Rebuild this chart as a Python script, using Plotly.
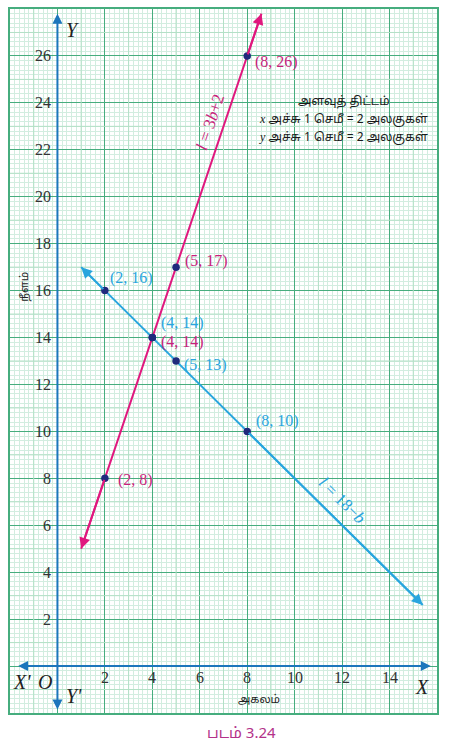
import plotly.graph_objects as go

# plotted points
b_pts_magenta = [2, 4, 5, 8]
l_pts_magenta = [8, 14, 17, 26]
b_pts_cyan = [2, 4, 5, 8]
l_pts_cyan = [16, 14, 13, 10]

# the two drawn lines, with their arrow ends
b_line_magenta = [1, 2, 4, 5, 8, 8.6]
l_line_magenta = [5, 8, 14, 17, 26, 27.8]
b_line_cyan = [1, 2, 4, 5, 8, 15.4]
l_line_cyan = [17, 16, 14, 13, 10, 2.6]

labels_magenta = ["(2, 8)", "(4, 14)", "(5, 17)", "(8, 26)"]
labels_cyan = ["(2, 16)", "(4, 14)", "(5, 13)", "(8, 10)"]

x_ticks = [2, 4, 6, 8, 10, 12, 14]
y_ticks = [2, 4, 6, 8, 10, 12, 14, 16, 18, 20, 22, 24, 26]

scale_lines = ["அளவுத் திட்டம்",
               "<span style='font-family:Liberation Serif'><i>x</i></span> அச்சு 1 செமீ = 2 அலகுகள்",
               "<span style='font-family:Liberation Serif'><i>y</i></span> அச்சு 1 செமீ = 2 அலகுகள்"]

MAGENTA = "#e0187e"
MAGENTA_TXT = "#c81f7c"
CYAN = "#29a5de"
AXIS_BLUE = "#1c76bc"
DOT = "#1f2a7c"
SERIF = "Liberation Serif, Times New Roman, serif"
TAMIL = "Noto Sans Tamil, Latha, Noto Sans, sans-serif"

# label offsets in px (right of / above the dot)
off_magenta = [(11, -2), (7, -4), (7, 6), (6, -6)]
off_cyan = [(3, 13), (7, 15), (6, -4), (7, 10)]

fig = go.Figure()

fig.add_trace(go.Scatter(x=b_line_magenta, y=l_line_magenta, mode="lines",
                         line=dict(color=MAGENTA, width=2), hoverinfo="skip"))
fig.add_trace(go.Scatter(x=b_line_cyan, y=l_line_cyan, mode="lines",
                         line=dict(color=CYAN, width=2), hoverinfo="skip"))
fig.add_trace(go.Scatter(x=b_pts_magenta + b_pts_cyan, y=l_pts_magenta + l_pts_cyan,
                         mode="markers", marker=dict(color=DOT, size=7.5)))

ann = []

# arrow heads at both ends of each line
for bx, ly, col in [(b_line_magenta, l_line_magenta, MAGENTA), (b_line_cyan, l_line_cyan, CYAN)]:
    for tip, tail in [(-1, -2), (0, 1)]:
        ann.append(dict(x=bx[tip], y=ly[tip], ax=bx[tail], ay=ly[tail], axref="x", ayref="y",
                        xref="x", yref="y", text="", showarrow=True, arrowhead=2,
                        arrowsize=1.1, arrowwidth=2, arrowcolor=col))

# coordinate axes
ann.append(dict(x=15.74, y=0, ax=-1.72, ay=0, axref="x", ayref="y", text="", showarrow=True,
                arrowhead=2, arrowside="end+start", arrowsize=1, arrowwidth=2, arrowcolor=AXIS_BLUE))
ann.append(dict(x=0, y=27.8, ax=0, ay=-1.91, axref="x", ayref="y", text="", showarrow=True,
                arrowhead=2, arrowside="end+start", arrowsize=1, arrowwidth=2, arrowcolor=AXIS_BLUE))

# point labels
for b, l, t, (dx, dy) in zip(b_pts_magenta, l_pts_magenta, labels_magenta, off_magenta):
    ann.append(dict(x=b, y=l, text=t, showarrow=False, xanchor="left", xshift=dx, yshift=dy,
                    font=dict(family=SERIF, size=16, color=MAGENTA_TXT)))
for b, l, t, (dx, dy) in zip(b_pts_cyan, l_pts_cyan, labels_cyan, off_cyan):
    ann.append(dict(x=b, y=l, text=t, showarrow=False, xanchor="left", xshift=dx, yshift=dy,
                    font=dict(family=SERIF, size=16, color=CYAN)))

# tick labels sit along the axes, not on the frame
for v in x_ticks:
    ann.append(dict(x=v, y=-0.47, text=str(v), showarrow=False,
                    font=dict(family=SERIF, size=16, color="#333")))
for v in y_ticks:
    ann.append(dict(x=-0.2, y=v, text=str(v), showarrow=False, xanchor="right",
                    font=dict(family=SERIF, size=16, color="#333")))

# axis letters
for txt, x, y in [("Y", 0.63, 27.1), ("X", 15.35, -0.91), ("X'", -1.51, -0.68),
                  ("O", -0.52, -0.68), ("Y'", 0.69, -1.27)]:
    ann.append(dict(x=x, y=y, text="<i>%s</i>" % txt, showarrow=False,
                    font=dict(family=SERIF, size=20, color="#222")))

ann.append(dict(x=8.48, y=-1.44, text="அகலம்", showarrow=False,
                font=dict(family=TAMIL, size=11, color="#222")))
ann.append(dict(x=-1.38, y=16.15, text="நீளம்", showarrow=False, textangle=-90,
                font=dict(family=TAMIL, size=11, color="#222")))

# line equations
ann.append(dict(x=6.45, y=23.2, text="<i>l</i> = 3<i>b</i>+2", showarrow=False, textangle=-71.5,
                font=dict(family=SERIF, size=17, color=MAGENTA_TXT)))
ann.append(dict(x=12.0, y=7.05, text="<i>l</i> = 18−<i>b</i>", showarrow=False, textangle=45,
                font=dict(family=SERIF, size=17, color=CYAN)))

# scale box
for txt, y in zip(scale_lines, [24.05, 23.28, 22.52]):
    ann.append(dict(x=12.05, y=y, text=txt, showarrow=False,
                    font=dict(family=TAMIL, size=12, color="#1a1a1a")))

# caption
ann.append(dict(x=0.541, y=-0.03, xref="paper", yref="paper", text="படம் 3.24", showarrow=False,
                yanchor="middle", font=dict(family=TAMIL, size=15, color="#b3328a")))

# medium (1 unit) lines of the graph sheet
shapes = []
for v in range(-1, 16, 2):
    shapes.append(dict(type="line", x0=v, x1=v, y0=-2, y1=28, layer="between",
                       line=dict(color="#b3e0c6", width=1)))
for v in range(-1, 28, 2):
    shapes.append(dict(type="line", x0=-2, x1=16, y0=v, y1=v, layer="between",
                       line=dict(color="#b3e0c6", width=1)))

grid = dict(showgrid=True, gridcolor="#46ad7e", gridwidth=1.2, tick0=0, dtick=2,
            zeroline=False, showticklabels=False, ticks="", showline=True, mirror=True,
            linecolor="#46ad7e", linewidth=1.5,
            minor=dict(showgrid=True, dtick=0.2, gridcolor="#d2ede0", gridwidth=1))

fig.update_layout(
    width=450, height=748,
    margin=dict(l=10, r=13, t=7, b=35),
    paper_bgcolor="white", plot_bgcolor="white",
    showlegend=False,
    xaxis=dict(range=[-2, 16], **grid),
    yaxis=dict(range=[-2, 28], **grid),
    annotations=ann,
    shapes=shapes,
)

fig.write_html("out.html", config={"displayModeBar": False},
               post_script="document.body.style.margin='0';")
